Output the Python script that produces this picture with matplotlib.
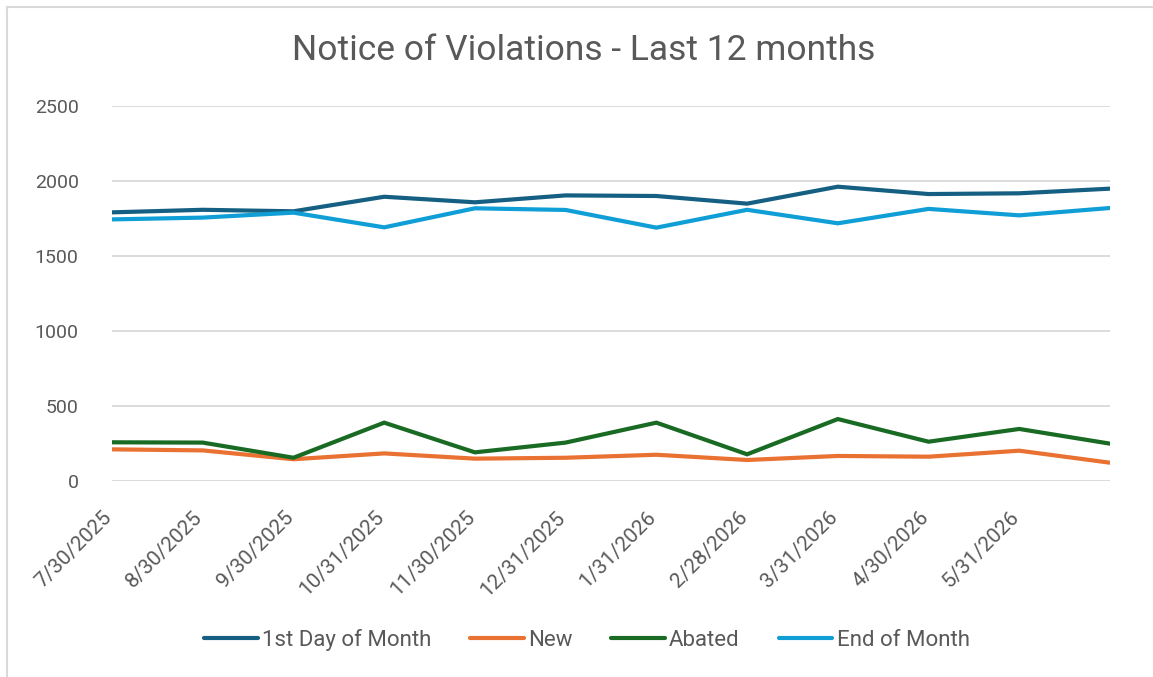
import matplotlib.pyplot as plt
from matplotlib.lines import Line2D
from matplotlib.transforms import ScaledTranslation

# Notice of Violations - last 12 months
dates = ["7/30/2025", "8/30/2025", "9/30/2025", "10/31/2025", "11/30/2025",
         "12/31/2025", "1/31/2026", "2/28/2026", "3/31/2026", "4/30/2026",
         "5/31/2026", ""]
first_day = [1791, 1808, 1798, 1895, 1858, 1904, 1900, 1849, 1962, 1913, 1918, 1949]
new = [211, 204, 145, 184, 149, 155, 175, 140, 167, 162, 202, 122]
abated = [258, 256, 155, 389, 191, 256, 389, 178, 413, 262, 347, 249]
end_month = [1744, 1756, 1789, 1691, 1818, 1807, 1689, 1808, 1718, 1814, 1771, 1820]

series = [
    ("1st Day of Month", first_day, "#156082"),
    ("New", new, "#E97132"),
    ("Abated", abated, "#196B24"),
    ("End of Month", end_month, "#0F9ED5"),
]

grey = "#595959"
plt.rcParams['font.family'] = ['Roboto', 'DejaVu Sans']


def main():
    fig = plt.figure(figsize=(11.53, 6.77), dpi=100)
    ax = fig.add_axes([112 / 1153, 1 - 481 / 677, (1110 - 112) / 1153, (481 - 106) / 677])

    x = list(range(len(dates)))
    for name, vals, col in series:
        ax.plot(x, vals, color=col, lw=3.0, label=name,
                solid_capstyle='round', solid_joinstyle='miter', zorder=3)

    ax.set_xlim(0, len(dates) - 1)
    ax.set_ylim(0, 2500)
    ax.set_yticks(range(0, 2501, 500))
    ax.set_xticks(x)
    ax.set_xticklabels(dates, rotation=45, ha='right', va='center',
                       rotation_mode='anchor')
    ax.grid(axis='y', color='#d9d9d9', lw=1.3, zorder=0)
    ax.tick_params(axis='y', length=0, pad=24, labelsize=14, labelcolor=grey)
    ax.tick_params(axis='x', length=0, pad=24, labelsize=15, labelcolor=grey)
    # nudge the slanted date labels a touch left
    shift = ScaledTranslation(-3 / 100, 0, fig.dpi_scale_trans)
    for lab in ax.get_xticklabels():
        lab.set_transform(lab.get_transform() + shift)
    for s in ax.spines.values():
        s.set_visible(False)

    fig.text(0.5065, 0.925, "Notice of Violations - Last 12 months",
             ha='center', va='center', fontsize=25.5, color=grey)

    fig.legend(loc='center', bbox_to_anchor=(0.509, 0.055), ncol=4,
               frameon=False, fontsize=16, handlelength=2.4,
               handletextpad=0.2, columnspacing=1.75, labelcolor=grey)

    # chart area border (top and left edges show in the screenshot)
    fig.add_artist(Line2D([7 / 1153, 1.0], [1 - 7 / 677, 1 - 7 / 677],
                          color='#d9d9d9', lw=1.5, transform=fig.transFigure))
    fig.add_artist(Line2D([7 / 1153, 7 / 1153], [0, 1 - 7 / 677],
                          color='#d9d9d9', lw=1.5, transform=fig.transFigure))

    fig.savefig("out.png", dpi=100)


if __name__ == "__main__":
    main()
